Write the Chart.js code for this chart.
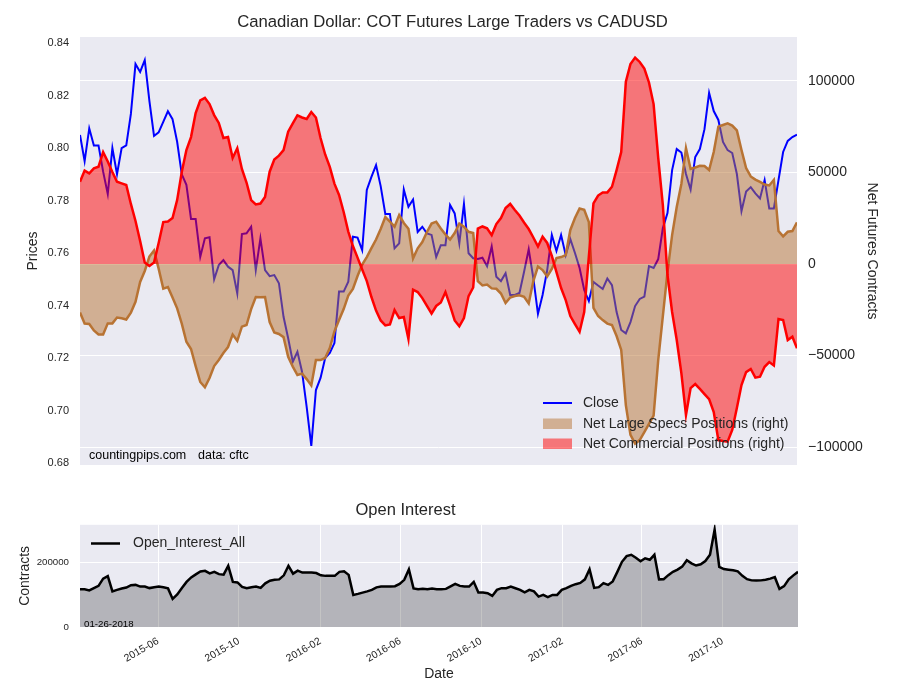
<!DOCTYPE html>
<html>
<head>
<meta charset="utf-8">
<title>Canadian Dollar: COT Futures Large Traders vs CADUSD</title>
<script src="https://cdn.jsdelivr.net/npm/chart.js@4.4.1/dist/chart.umd.min.js"></script>
<style>
  body { margin: 0; background: #fff; }
  #wrap { position: relative; width: 900px; height: 700px; }
  #top { position: absolute; left: 0; top: 0; }
  #bottom { position: absolute; left: 0; top: 480px; }
</style>
</head>
<body>
<div id="wrap">
  <canvas id="top" width="900" height="480"></canvas>
  <canvas id="bottom" width="900" height="220"></canvas>
</div>
<script>
// weekly COT report dates (Tuesdays), first one below
const startDate = "2015-02-03";

// CADUSD close (left axis)
const closePrices = [
  0.805, 0.795, 0.8075, 0.801, 0.801, 0.791, 0.7825, 0.800, 0.790, 0.800,
  0.801, 0.813, 0.832, 0.829, 0.8335, 0.818, 0.8046, 0.806, 0.810, 0.814,
  0.811, 0.8024, 0.790, 0.786, 0.773, 0.773, 0.7586, 0.7656, 0.766, 0.750,
  0.7554, 0.7573, 0.7548, 0.7535, 0.7446, 0.7672, 0.7675, 0.770, 0.7535, 0.7656,
  0.7535, 0.7512, 0.7516, 0.7485, 0.7357, 0.7275, 0.7186, 0.7224, 0.7148, 0.7014,
  0.6865, 0.7078, 0.7124, 0.720, 0.7219, 0.7257, 0.7453, 0.7453, 0.7491, 0.7662,
  0.7659, 0.7611, 0.784, 0.789, 0.7935, 0.7855, 0.7749, 0.7749, 0.7618, 0.7637,
  0.7842, 0.7776, 0.7804, 0.768, 0.770, 0.7675, 0.7669, 0.7585, 0.763, 0.763,
  0.7783, 0.7751, 0.7637, 0.7787, 0.7599, 0.758, 0.7577, 0.7582, 0.755, 0.7625,
  0.751, 0.7493, 0.7523, 0.744, 0.744, 0.7448, 0.7529, 0.7614, 0.7504, 0.7368,
  0.744, 0.7535, 0.7669, 0.7608, 0.7669, 0.7592, 0.7653, 0.760, 0.7543, 0.7459,
  0.7417, 0.749, 0.7476, 0.7463, 0.7503, 0.7478, 0.7375, 0.7307, 0.7294, 0.7337,
  0.7398, 0.7425, 0.7434, 0.755, 0.7543, 0.7577, 0.7695, 0.7752, 0.7916, 0.7996,
  0.7983, 0.7901, 0.7842, 0.7966, 0.7996, 0.8072, 0.821, 0.8141, 0.8107, 0.8023,
  0.7992, 0.7981, 0.7901, 0.776, 0.7834, 0.7851, 0.7827, 0.7808, 0.7878, 0.777,
  0.777, 0.7878, 0.7985, 0.8027, 0.8042, 0.8051
];

// net large speculator positions (right axis)
const netSpecs = [
  -26500, -32500, -32750, -36300, -38500, -38500, -32400, -32400, -29200, -29600,
  -30300, -26500, -20600, -9800, -3800, 4100, 7400, -2500, -13400, -12600,
  -18300, -24200, -32500, -42400, -46400, -55700, -64400, -67300, -62200, -55700,
  -52400, -48600, -45300, -38500, -41900, -34200, -33300, -24600, -18000, -18200,
  -18000, -31700, -37400, -38200, -39900, -50600, -56000, -60600, -59800, -62800,
  -66300, -52400, -52400, -51300, -45900, -36800, -30600, -24600, -17200, -13600,
  -6550, -300, 3800, 8700, 13400, 19100, 25700, 23100, 20400, 26700,
  22400, 19300, 3100, 8600, 12000, 17500, 22100, 23100, 19400, 16100,
  13400, 16900, 22100, 20400, 17600, 16900, -9300, -11700, -11200, -13300,
  -13500, -16100, -21300, -18300, -17500, -17100, -17900, -21500, -9300, -1400,
  -3300, -6800, -2700, 3300, 3800, 4900, 18600, 25100, 30300, 29600,
  22900, -24000, -28400, -30600, -32500, -33300, -39300, -46900, -77000, -93300,
  -98000, -96100, -91700, -87300, -82700, -52400, -28400, -4400, 15800, 31100,
  43700, 63200, 51900, 52700, 53600, 53500, 51300, 61100, 75000, 75900,
  76800, 75600, 72900, 62200, 52400, 47800, 46100, 44800, 43400, 42900,
  45900, 18000, 15100, 17600, 18000, 22700
];

// net commercial positions (right axis)
const netCommercial = [
  44900, 51000, 49500, 52200, 53100, 61100, 56000, 50200, 44900, 44000,
  43100, 32800, 23500, 12600, 800, -1100, 800, 11500, 22900, 23200,
  25100, 34900, 50200, 62200, 69300, 82400, 89300, 90700, 87300, 81300,
  77000, 68800, 69300, 57900, 63200, 51900, 44500, 34900, 32500, 33000,
  36600, 50400, 57000, 59200, 62200, 72200, 76800, 81100, 80000, 79200,
  83000, 80000, 68800, 59800, 53000, 43900, 37700, 28400, 17700, 9800,
  3500, -3000, -9300, -18000, -25400, -30800, -33500, -33000, -25100, -29500,
  -28900, -40900, -14000, -15300, -18600, -22900, -27000, -22900, -21000, -15300,
  -22700, -30800, -34000, -29500, -17500, -12800, 19400, 20500, 19500, 15800,
  21800, 25100, 30600, 32800, 29500, 26500, 22700, 19100, 14500, 9600,
  14900, 11500, 4400, -4400, -13100, -19700, -28400, -32800, -37000, -26200,
  4000, 33100, 37400, 39100, 39100, 42200, 51300, 61100, 99500, 109200,
  112700, 110300, 106700, 99100, 87300, 57900, 32200, -6000, -26200, -41500,
  -59500, -82400, -67700, -65500, -68200, -71000, -73700, -80800, -96100, -96600,
  -97000, -90600, -78600, -66100, -59000, -57300, -62000, -61500, -56100, -53500,
  -55400, -30000, -30600, -41500, -39700, -46000
];

// open interest, all contracts
const openInterest = [
  116500, 116500, 112800, 119900, 126700, 149000, 157000, 109700, 114400, 118400,
  121500, 128900, 129800, 124600, 124600, 119900, 122700, 124600, 122700, 119000,
  86500, 100500, 120500, 139100, 153000, 162300, 170900, 173100, 165400, 170000,
  162900, 161400, 188600, 139100, 137500, 123600, 119600, 122700, 124600, 120500,
  134500, 142800, 145300, 146800, 159200, 188600, 164400, 173700, 167800, 167800,
  167800, 166300, 159200, 157600, 157600, 157600, 170000, 171500, 160700, 98900,
  102000, 106000, 109700, 114400, 122100, 124600, 124600, 124600, 125800, 132900,
  145300, 177700, 119000, 116500, 117500, 116500, 118400, 116500, 116500, 117500,
  125200, 132900, 126700, 124600, 124600, 139100, 106000, 106000, 104200, 95800,
  114400, 119600, 119600, 124600, 119600, 114400, 106600, 114400, 109700, 93700,
  98900, 91800, 98900, 98900, 114400, 119600, 126700, 132000, 136000, 146800,
  177700, 120500, 122700, 135100, 129800, 140600, 170000, 200900, 218500, 222600,
  213300, 202500, 211700, 207100, 222600, 146800, 147400, 159800, 170000, 176800,
  186100, 205600, 196300, 189500, 193200, 203100, 222600, 300000, 185500, 178700,
  176500, 174600, 171500, 157600, 147400, 143700, 143100, 143700, 145900, 149000,
  153600, 117500, 125800, 146800, 159200, 170000
];

const priceTicks = [0.68, 0.70, 0.72, 0.74, 0.76, 0.78, 0.80, 0.82, 0.84];
const netTicks = [-100000, -50000, 0, 50000, 100000];
const oiTicks = [0, 200000];
const dateTickLabels = ["2015-06", "2015-10", "2016-02", "2016-06", "2016-10", "2017-02", "2017-06", "2017-10"];
const legendTop = ["Close", "Net Large Specs Positions (right)", "Net Commercial Positions (right)"];
const legendBottom = "Open_Interest_All";
const reportDate = "01-26-2018";

const DAY = 86400000;
const weekDays = closePrices.map((v, i) => Date.parse(startDate) / DAY + 7 * i);
const dateTicks = dateTickLabels.map(s => Date.parse(s + "-01") / DAY);
const pts = arr => arr.map((v, i) => ({ x: weekDays[i], y: v }));
const minus = v => (v < 0 ? "\u2212" + Math.abs(v) : String(v));

const FONT = "'Liberation Sans', Arial, sans-serif";
const TXT = "#262626";
Chart.defaults.font.family = FONT;
Chart.defaults.color = TXT;

// y axes: keep the tick labels from pushing the plot area in
const noVPad = s => { s.paddingTop = 0; s.paddingBottom = 0; };

const plotBg = {
  id: "plotBg",
  beforeDraw(chart) {
    const a = chart.chartArea;
    const ctx = chart.ctx;
    ctx.save();
    ctx.fillStyle = "#eaeaf2";
    ctx.fillRect(a.left, a.top, a.right - a.left, a.bottom - a.top);
    ctx.restore();
  }
};

const topNotes = {
  id: "topNotes",
  afterDraw(chart) {
    const ctx = chart.ctx;
    ctx.save();
    ctx.textBaseline = "middle";
    ctx.strokeStyle = "#0000ff";
    ctx.lineWidth = 2;
    ctx.beginPath();
    ctx.moveTo(543, 403);
    ctx.lineTo(572, 403);
    ctx.stroke();
    ctx.fillStyle = "rgba(184,115,51,0.5)";
    ctx.fillRect(543, 418.5, 29, 10.5);
    ctx.fillStyle = "rgba(255,0,0,0.5)";
    ctx.fillRect(543, 438.5, 29, 10.5);
    ctx.fillStyle = TXT;
    ctx.font = "14px " + FONT;
    ctx.fillText(legendTop[0], 583, 403);
    ctx.fillText(legendTop[1], 583, 424);
    ctx.fillText(legendTop[2], 583, 444);
    ctx.fillStyle = "#000";
    ctx.font = "12.5px " + FONT;
    ctx.fillText("countingpips.com", 89, 456);
    ctx.fillText("data: cftc", 198, 456);
    ctx.restore();
  }
};

const bottomNotes = {
  id: "bottomNotes",
  afterDraw(chart) {
    const ctx = chart.ctx;
    ctx.save();
    ctx.textBaseline = "middle";
    ctx.strokeStyle = "#000";
    ctx.lineWidth = 2.5;
    ctx.beginPath();
    ctx.moveTo(91, 63.5);
    ctx.lineTo(120, 63.5);
    ctx.stroke();
    ctx.fillStyle = TXT;
    ctx.font = "14px " + FONT;
    ctx.fillText(legendBottom, 133, 63.5);
    ctx.fillStyle = "#000";
    ctx.font = "9.7px " + FONT;
    ctx.fillText(reportDate, 84, 144);
    ctx.restore();
  }
};

new Chart(document.getElementById("top"), {
  type: "line",
  data: {
    datasets: [
      {
        label: legendTop[0],
        data: pts(closePrices),
        yAxisID: "y",
        borderColor: "#0000ff",
        borderWidth: 2,
        pointRadius: 0,
        fill: false,
        order: 3
      },
      {
        label: legendTop[1],
        data: pts(netSpecs),
        yAxisID: "y1",
        borderColor: "#b87333",
        backgroundColor: "rgba(184,115,51,0.5)",
        borderWidth: 2.5,
        pointRadius: 0,
        fill: "origin",
        order: 2
      },
      {
        label: legendTop[2],
        data: pts(netCommercial),
        yAxisID: "y1",
        borderColor: "#ff0000",
        backgroundColor: "rgba(255,0,0,0.5)",
        borderWidth: 2.5,
        pointRadius: 0,
        fill: "origin",
        order: 1
      }
    ]
  },
  options: {
    responsive: false,
    animation: false,
    events: [],
    layout: { padding: { left: 21, right: 16, top: 0, bottom: 15 } },
    plugins: {
      legend: { display: false },
      tooltip: { enabled: false },
      title: {
        display: true,
        text: "Canadian Dollar: COT Futures Large Traders vs CADUSD",
        font: { size: 16.7, weight: "normal" },
        color: TXT,
        padding: { top: 12, bottom: 5 }
      }
    },
    scales: {
      x: {
        type: "linear",
        display: false,
        min: weekDays[0],
        max: weekDays[weekDays.length - 1]
      },
      y: {
        position: "left",
        min: 0.67924,
        max: 0.84229,
        grid: { display: false, drawTicks: false },
        border: { display: false },
        ticks: { font: { size: 11 }, padding: 11, callback: v => v.toFixed(2) },
        title: { display: true, text: "Prices", font: { size: 14 } },
        afterBuildTicks: s => { s.ticks = priceTicks.map(v => ({ value: v })); },
        afterFit: s => { s.width = 59; noVPad(s); }
      },
      y1: {
        position: "right",
        min: -109700,
        max: 123900,
        grid: { color: "#ffffff", lineWidth: 1, drawTicks: false },
        border: { display: false },
        ticks: { font: { size: 14 }, padding: 11, callback: v => minus(v) },
        title: { display: true, text: "Net Futures Contracts", font: { size: 14 } },
        afterBuildTicks: s => { s.ticks = netTicks.map(v => ({ value: v })); },
        afterFit: s => { s.width = 87; noVPad(s); }
      }
    }
  },
  plugins: [plotBg, topNotes]
});

new Chart(document.getElementById("bottom"), {
  type: "line",
  data: {
    datasets: [
      {
        label: legendBottom,
        data: pts(openInterest),
        borderColor: "#000000",
        backgroundColor: "rgba(0,0,0,0.23)",
        borderWidth: 2.5,
        pointRadius: 0,
        fill: "origin"
      }
    ]
  },
  options: {
    responsive: false,
    animation: false,
    events: [],
    layout: { padding: { left: 13, right: 102, top: 0, bottom: 13 } },
    plugins: {
      legend: { display: false },
      tooltip: { enabled: false },
      title: {
        display: true,
        text: "Open Interest",
        font: { size: 16.5, weight: "normal" },
        color: TXT,
        padding: { top: 21, bottom: 4 }
      }
    },
    scales: {
      x: {
        type: "linear",
        min: weekDays[0],
        max: weekDays[weekDays.length - 1],
        grid: { color: "#ffffff", lineWidth: 1, drawTicks: false },
        border: { display: false },
        ticks: {
          font: { size: 10.4 },
          padding: 8,
          autoSkip: false,
          minRotation: 30,
          maxRotation: 30,
          callback: v => dateTickLabels[dateTicks.indexOf(v)]
        },
        title: { display: true, text: "Date", font: { size: 14 } },
        afterBuildTicks: s => { s.ticks = dateTicks.map(v => ({ value: v })); },
        afterFit: s => { s.height = 60; }
      },
      y: {
        min: 0,
        max: 315000,
        grid: { color: "#ffffff", lineWidth: 1, drawTicks: false },
        border: { display: false },
        ticks: { font: { size: 9.7 }, padding: 11, callback: v => String(v) },
        title: { display: true, text: "Contracts", font: { size: 14 } },
        afterBuildTicks: s => { s.ticks = oiTicks.map(v => ({ value: v })); },
        afterFit: s => { s.width = 67; }
      }
    }
  },
  plugins: [plotBg, bottomNotes]
});
</script>
</body>
</html>
